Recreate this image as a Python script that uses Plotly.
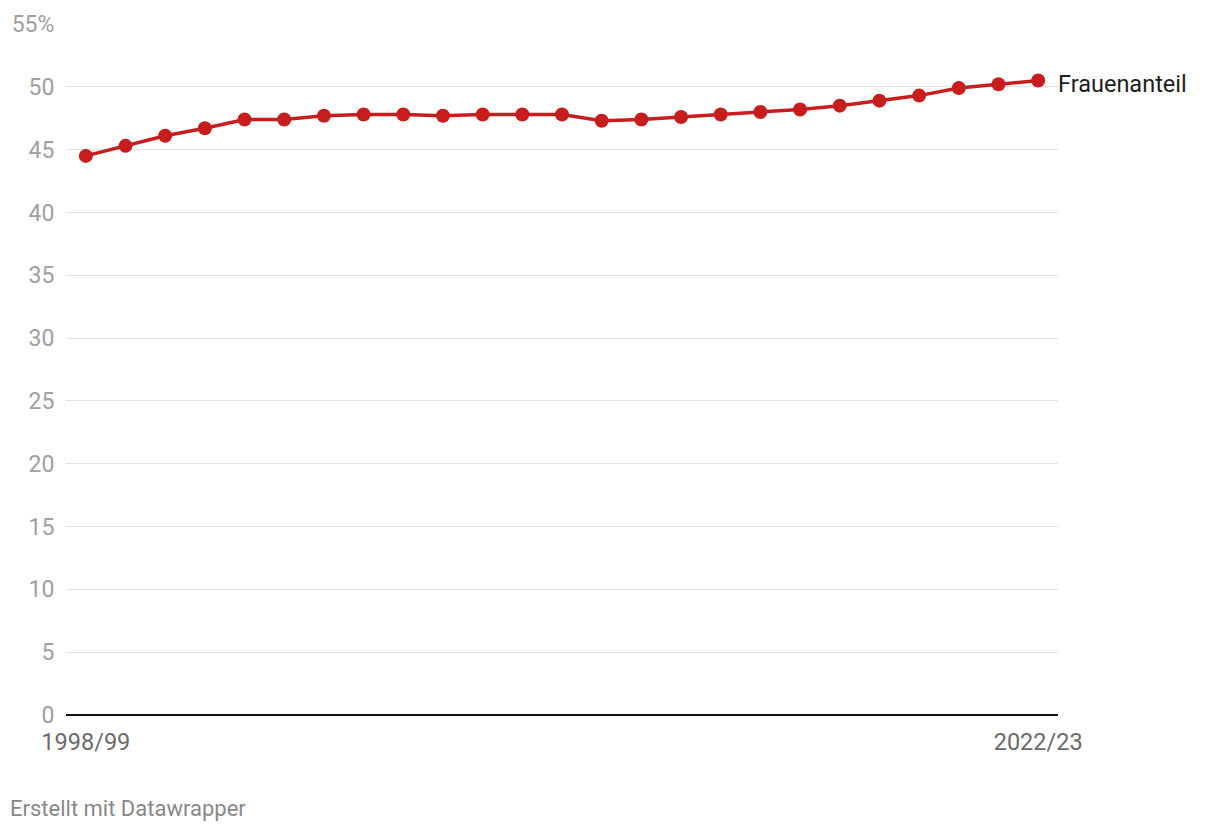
import plotly.graph_objects as go

years = [f"{y}/{str(y + 1)[-2:]}" for y in range(1998, 2023)]
share = [44.5, 45.3, 46.1, 46.7, 47.4, 47.4, 47.7, 47.8, 47.8, 47.7, 47.8, 47.8, 47.8,
         47.3, 47.4, 47.6, 47.8, 48.0, 48.2, 48.5, 48.9, 49.3, 49.9, 50.2, 50.5]
y_ticks = [0, 5, 10, 15, 20, 25, 30, 35, 40, 45, 50, 55]
y_ticktext = [str(v) for v in y_ticks[:-1]] + ["55%"]
series_name = "Frauenanteil"

RED = "#c71e1d"
FONT = "Roboto"

fig = go.Figure()
fig.add_trace(go.Scatter(
    x=years, y=share, mode="lines+markers",
    line=dict(color=RED, width=3.5),
    marker=dict(color=RED, size=14),
    hoverinfo="skip", showlegend=False,
))

fig.add_annotation(x=years[-1], y=share[-1], text=series_name, showarrow=False,
                   xanchor="left", yanchor="middle", xshift=18, yshift=-3,
                   font=dict(family=FONT, size=23.5, color="#1d1d1d"))
fig.add_annotation(xref="paper", yref="paper", x=0, y=0, xanchor="left", yanchor="middle",
                   text="Erstellt mit Datawrapper", showarrow=False,
                   xshift=-58, yshift=-93,
                   font=dict(family=FONT, size=22, color="#888888"))

fig.update_layout(
    width=1220, height=832,
    margin=dict(l=66, r=162, t=24, b=117),
    paper_bgcolor="white", plot_bgcolor="white",
    font=dict(family=FONT),
    xaxis=dict(
        type="category",
        range=[-0.5, len(years) - 0.5],
        tickmode="array", tickvals=[years[0], years[-1]], ticktext=[years[0], years[-1]],
        showgrid=False, zeroline=False,
        showline=False,
        ticks="outside", ticklen=6, tickcolor="rgba(0,0,0,0)",
        tickfont=dict(family=FONT, size=23.5, color="#6b6b6b"),
    ),
    yaxis=dict(
        range=[0, 55], tickmode="array", tickvals=y_ticks, ticktext=y_ticktext,
        showgrid=True, gridcolor="#e1e1e1", gridwidth=1,
        zeroline=True, zerolinecolor="#111111", zerolinewidth=2,
        showline=False,
        ticks="outside", ticklen=6, tickcolor="rgba(0,0,0,0)",
        tickfont=dict(family=FONT, size=23, color="#a0a0a0"),
    ),
)

fig.write_html("out.html")
